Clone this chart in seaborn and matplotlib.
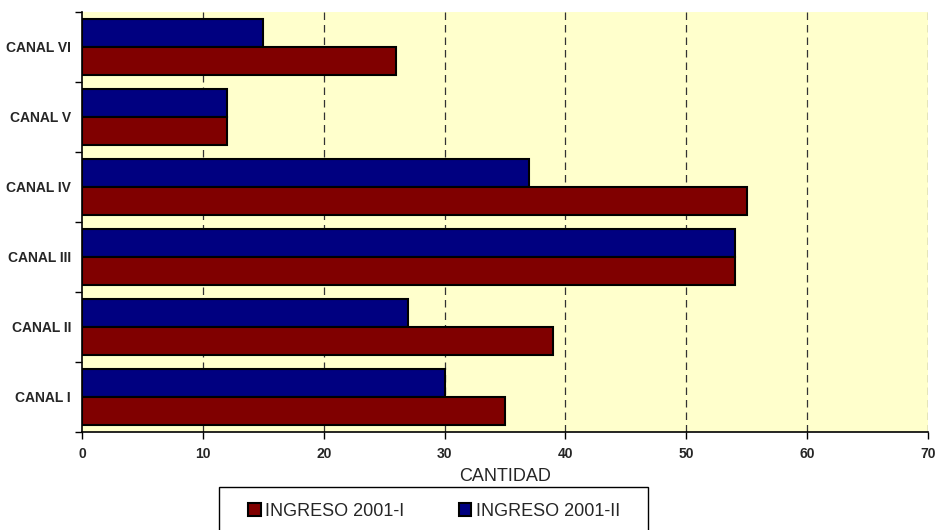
import pandas as pd
import seaborn as sns
import matplotlib.pyplot as plt
from matplotlib.patches import Rectangle
from matplotlib.ticker import FixedLocator

canales = ["CANAL VI", "CANAL V", "CANAL IV", "CANAL III", "CANAL II", "CANAL I"]
ingreso_1 = [26, 12, 55, 54, 39, 35]
ingreso_2 = [15, 12, 37, 54, 27, 30]
series = ["INGRESO 2001-I", "INGRESO 2001-II"]
colores = {"INGRESO 2001-I": "#800000", "INGRESO 2001-II": "#000080"}

data = pd.DataFrame({
    "canal": canales * 2,
    "cantidad": ingreso_1 + ingreso_2,
    "serie": [series[0]] * len(canales) + [series[1]] * len(canales),
})

sns.set_style("white")
plt.rcParams["font.family"] = ["Liberation Sans", "DejaVu Sans"]

fig = plt.figure(figsize=(9.36, 5.3), dpi=100)
ax = fig.add_axes([82 / 936, 1 - 432 / 530, (928 - 82) / 936, 420 / 530])
ax.set_facecolor("#FFFFCC")

# blue first so it sits on top inside each group
sns.barplot(data=data, y="canal", x="cantidad", hue="serie", order=canales,
            hue_order=[series[1], series[0]], palette=colores, saturation=1, orient="h",
            edgecolor="black", linewidth=1.5, ax=ax, legend=False, zorder=3)

ax.set_xlim(0, 70)
ax.set_xticks(range(0, 71, 10))
for x in range(10, 71, 10):
    ax.axvline(x, color="#333333", lw=0.9, ls=(0, (6, 4)), zorder=1)

ax.set_ylim(5.5, -0.5)
ax.yaxis.set_minor_locator(FixedLocator([i - 0.5 for i in range(len(canales) + 1)]))
ax.tick_params(axis="y", which="major", length=0, pad=8, labelsize=10)
ax.tick_params(axis="y", which="minor", length=5, width=1, color="black", direction="out", left=True)
ax.tick_params(axis="x", length=5, width=1, color="black", direction="out", bottom=True, labelsize=10, pad=6)
for lab in ax.get_xticklabels() + ax.get_yticklabels():
    lab.set_fontweight("bold")

for s in ["top", "right"]:
    ax.spines[s].set_visible(False)
for s in ["left", "bottom"]:
    ax.spines[s].set_color("black")
    ax.spines[s].set_linewidth(1.2)

ax.set_ylabel("")
ax.set_xlabel("CANTIDAD", fontsize=13, labelpad=5)

handles = [Rectangle((0, 0), 1, 1, facecolor=colores[s], edgecolor="black", lw=1.5) for s in series]
fig.legend(handles, series, loc="center left", bbox_to_anchor=(248 / 936, 1 - 511 / 530),
           ncol=2, frameon=False, fontsize=13, handlelength=0.7, handleheight=0.7,
           handletextpad=0.25, columnspacing=3.0, borderpad=0, borderaxespad=0)
fig.patches.append(Rectangle((219 / 936, -0.05), (648 - 219) / 936, 0.05 + 1 - 487 / 530,
                             transform=fig.transFigure, fill=False, edgecolor="black", lw=1))

fig.savefig("out.png", dpi=100)
